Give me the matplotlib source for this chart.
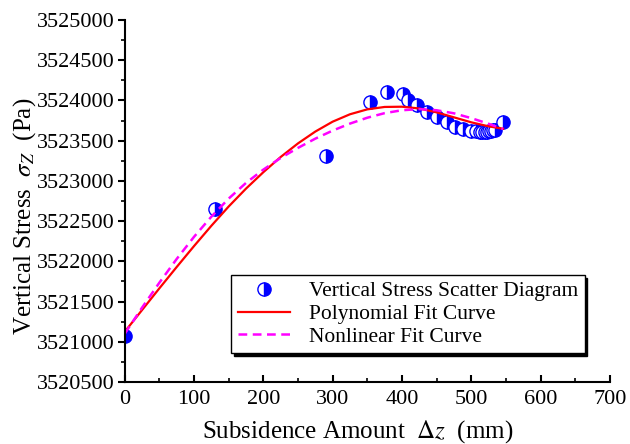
import matplotlib
matplotlib.use("Agg")
import matplotlib.pyplot as plt
from matplotlib.ticker import MultipleLocator, FormatStrFormatter
from matplotlib.lines import Line2D

# Measured vertical stress vs. subsidence
subsidence = [0, 130, 290, 354, 378, 401, 409, 422, 436, 451, 465, 476, 488,
              500, 507, 512, 516, 520, 523, 526, 529, 532, 535, 546]
stress = [3521070, 3522650, 3523310, 3523985, 3524105, 3524080, 3524000,
          3523940, 3523855, 3523790, 3523730, 3523675, 3523648, 3523626,
          3523618, 3523612, 3523610, 3523610, 3523612, 3523615, 3523620,
          3523628, 3523638, 3523730]

# Fitted curves, sampled along the subsidence range
fit_x = [0, 25, 50, 75, 100, 125, 150, 175, 200, 225, 250, 275, 300, 325,
         350, 375, 400, 425, 450, 475, 500, 525, 546]
poly_fit = [3521125, 3521395, 3521665, 3521930, 3522190, 3522442, 3522682,
            3522904, 3523108, 3523297, 3523466, 3523613, 3523736, 3523828,
            3523889, 3523919, 3523922, 3523900, 3523852, 3523790, 3523728,
            3523678, 3523648]
nonlin_fit = [3521100, 3521425, 3521735, 3522030, 3522305, 3522555, 3522780,
              3522975, 3523140, 3523285, 3523410, 3523525, 3523625, 3523712,
              3523785, 3523842, 3523878, 3523892, 3523878, 3523840, 3523780,
              3523710, 3523645]

labels = ["Vertical Stress Scatter Diagram", "Polynomial Fit Curve",
          "Nonlinear Fit Curve"]

plt.rcParams["font.family"] = ["Liberation Serif", "DejaVu Serif"]
plt.rcParams["mathtext.fontset"] = "stix"

fig = plt.figure(figsize=(6.3, 4.44), dpi=100)
ax = fig.add_axes([0.198, 0.1396, 0.770, 0.8154])

ax.plot(fit_x, poly_fit, color="#ff0000", lw=1.6, zorder=3)
ax.plot(fit_x, nonlin_fit, color="#ff00ff", lw=1.8, ls=(0, (3.5, 2.2)), zorder=4)
marks, = ax.plot(subsidence, stress, ls="none", marker="o", markersize=9.5,
                 fillstyle="right", markerfacecolor="#0000ff",
                 markerfacecoloralt="white", markeredgecolor="#0000ff",
                 markeredgewidth=1.0, zorder=2)
marks.set_clip_path(ax.patch)

ax.set_xlim(0, 700)
ax.set_ylim(3520500, 3525000)
ax.xaxis.set_major_locator(MultipleLocator(100))
ax.xaxis.set_minor_locator(MultipleLocator(50))
ax.yaxis.set_major_locator(MultipleLocator(500))
ax.yaxis.set_minor_locator(MultipleLocator(250))
ax.yaxis.set_major_formatter(FormatStrFormatter("%d"))

for side in ("top", "right"):
    ax.spines[side].set_visible(False)
for side in ("left", "bottom"):
    ax.spines[side].set_linewidth(1.5)
    ax.spines[side].set_zorder(5)

ax.tick_params(axis="x", which="major", direction="in", length=5, width=1.5,
               labelsize=16, pad=6)
ax.tick_params(axis="x", which="minor", direction="in", length=3, width=1.2)
ax.tick_params(axis="y", which="major", direction="out", length=5, width=1.5,
               labelsize=16, pad=2)
ax.tick_params(axis="y", which="minor", direction="out", length=3, width=1.2)

ax.set_xlabel(r"Subsidence Amount  $\Delta z$  (mm)", fontsize=18)
ax.set_ylabel(r"Vertical Stress  $\sigma_Z$  (Pa)", fontsize=18)
ax.xaxis.set_label_coords(0.48, -0.100)
ax.yaxis.set_label_coords(-0.178, 0.459)

handles = [
    Line2D([], [], ls="none", marker="o", markersize=9.5, fillstyle="right",
           markerfacecolor="#0000ff", markerfacecoloralt="white",
           markeredgecolor="#0000ff", markeredgewidth=1.0),
    Line2D([], [], color="#ff0000", lw=1.6),
    Line2D([], [], color="#ff00ff", lw=1.8, ls=(0, (3.5, 2.2))),
]
leg = ax.legend(handles, labels, loc="upper right",
                bbox_to_anchor=(0.948, 0.296), fontsize=15.5, frameon=True,
                fancybox=False, shadow={"color": "black", "alpha": 1.0},
                handlelength=2.4, borderpad=0.3, labelspacing=0.12,
                handletextpad=0.9, borderaxespad=0)
leg.get_frame().set_edgecolor("black")
leg.get_frame().set_linewidth(1.0)

fig.savefig("out.png", dpi=100)
